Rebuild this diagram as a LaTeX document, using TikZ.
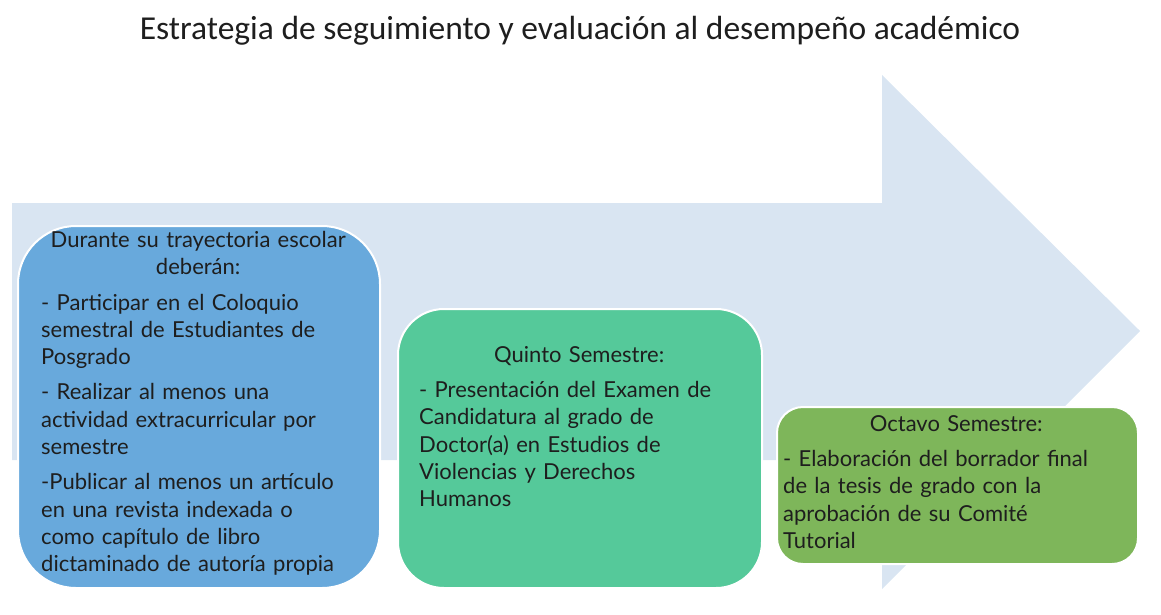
\documentclass[tikz,border=0pt]{standalone}
\usepackage{fontspec}
\setmainfont{Lato}
\newfontfamily\titlefont{Carlito}
\usepackage{xcolor}
\usetikzlibrary{positioning}

\definecolor{arrowblue}{HTML}{D9E5F2}
\definecolor{durblue}{HTML}{68A9DC}
\definecolor{quintogreen}{HTML}{55C99A}
\definecolor{octavogreen}{HTML}{7EB65A}
\definecolor{inktext}{HTML}{1E1E1E}

\begin{document}
\begin{tikzpicture}[x=1pt,y=-1pt,
  stage/.style={draw=white,line width=2pt,inner sep=0pt},
  txt/.style={inner sep=0pt,align=left,text=inktext,
    font=\fontsize{22}{27.3}\selectfont\setlength\parskip{8pt}\setlength\parindent{0pt}}]
\useasboundingbox (0,0) rectangle (1161,615);

% Title
\node[font=\titlefont\fontsize{33.5}{38}\selectfont,text=inktext] (title) at (580,31) {Estrategia de seguimiento y evaluación al desempeño académico};

% Big arrow
\fill[arrowblue] (12,203) -- (882,203) -- (882,75) -- (1140,331) -- (882,589) -- (882,460) -- (12,460) -- cycle;

% Boxes
\node[stage,fill=durblue,minimum width=362pt,minimum height=362pt,rounded corners=58pt] (durante) at (199,407) {};
\node[stage,fill=quintogreen,minimum width=364pt,minimum height=279pt,rounded corners=46pt] (quinto) at (580,448.5) {};
\node[stage,fill=octavogreen,minimum width=361pt,minimum height=157pt,rounded corners=26pt] (octavo) at (957.5,485.5) {};

% Texts
\node[txt,text width=314pt,below right=6pt and 24pt of durante.north west] (duranteTxt) {%
{\centering Durante su trayectoria escolar\\deberán:\par}
- Participar en el Coloquio\\semestral de Estudiantes de\\Posgrado\par
- Realizar al menos una\\actividad extracurricular por\\semestre\par
-Publicar al menos un artículo\\en una revista indexada o\\como capítulo de libro\\dictaminado de autoría propia\par};

\node[txt,text width=320pt,below right=38pt and 22pt of quinto.north west] (quintoTxt) {%
{\centering Quinto Semestre:\par}
- Presentación del Examen de\\Candidatura al grado de\\Doctor(a) en Estudios de\\Violencias y Derechos\\Humanos\par};

\node[txt,text width=346pt,below right=9pt and 7pt of octavo.north west] (octavoTxt) {%
{\centering Octavo Semestre:\par}
- Elaboración del borrador final\\de la tesis de grado con la\\aprobación de su Comité\\Tutorial\par};
\end{tikzpicture}
\end{document}
